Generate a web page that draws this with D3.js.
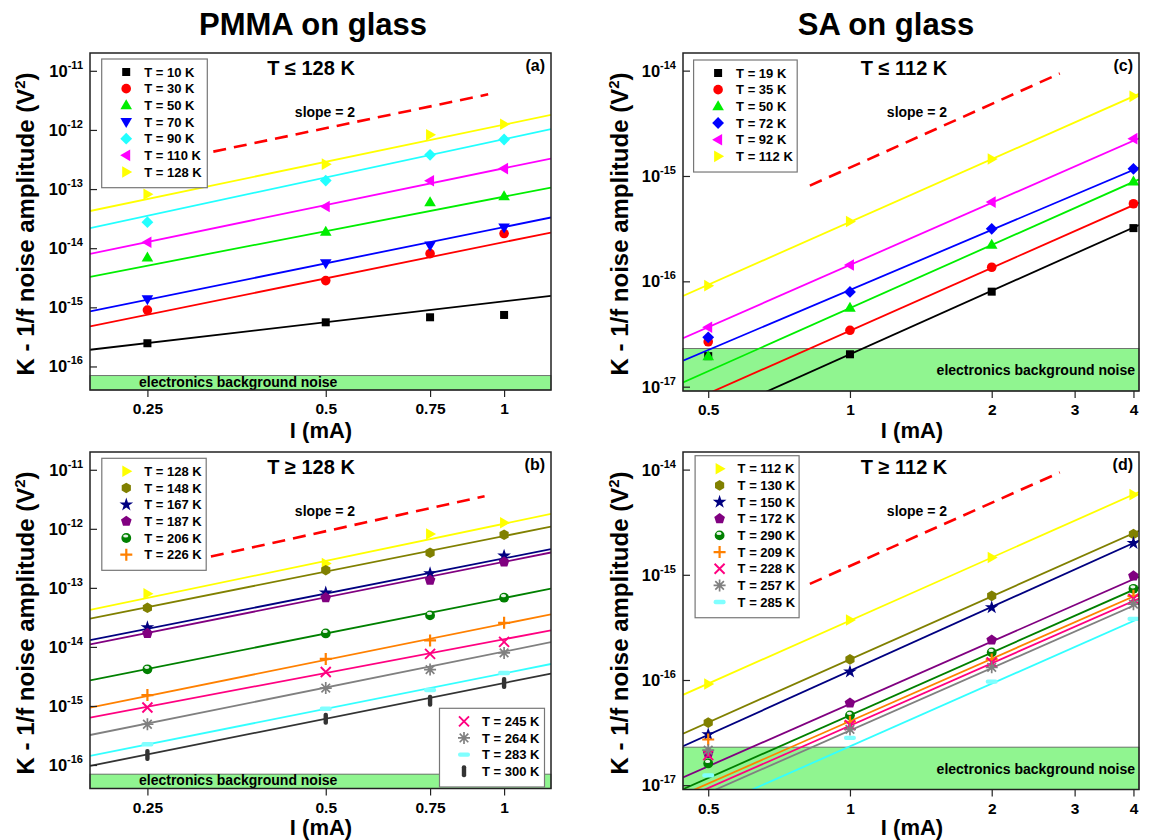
<!DOCTYPE html>
<html>
<head>
<meta charset="utf-8">
<script src="https://cdn.jsdelivr.net/npm/d3@7"></script>
<style>
  body { margin: 0; background: #fff; }
  text { font-family: "Liberation Sans", Arial, sans-serif; font-weight: bold; fill: #000; }
</style>
</head>
<body>
<div id="chart"></div>
<script>
// ---- data ----
const currentPMMA = [0.25, 0.5, 0.75, 1];
const currentSA = [0.5, 1, 2, 4];

// (a) PMMA, T <= 128 K
const labelsA = ["T = 10 K", "T = 30 K", "T = 50 K", "T = 70 K", "T = 90 K", "T = 110 K", "T = 128 K"];
const valuesA = [
    [2.47e-16, 5.58e-16, 6.79e-16, 7.43e-16],
    [9.0e-16, 2.83e-15, 8.11e-15, 1.77e-14],
    [6.93e-15, 1.89e-14, 6.0e-14, 7.59e-14],
    [1.37e-15, 5.57e-15, 1.11e-14, 2.23e-14],
    [2.75e-14, 1.39e-13, 3.79e-13, 6.89e-13],
    [1.26e-14, 5.06e-14, 1.38e-13, 2.22e-13],
    [8.18e-14, 2.64e-13, 8.26e-13, 1.25e-12],
];
const fitAmpA = [1.26e-15, 1.27e-14, 7.45e-14, 2.28e-14, 6.97e-13, 2.25e-13, 1.23e-12]; // value at 1 mA
const fitExpA = [1.17, 2.04, 1.94, 2.04, 2.15, 2.07, 2.09];

// (b) PMMA, T >= 128 K
const labelsB = ["T = 128 K", "T = 148 K", "T = 167 K", "T = 187 K", "T = 206 K", "T = 226 K",
    "T = 245 K", "T = 264 K", "T = 283 K", "T = 300 K"];
const valuesB = [
    [7.96e-14, 2.58e-13, 8.17e-13, 1.27e-12],
    [4.6e-14, 1.99e-13, 3.93e-13, 7.94e-13],
    [2.14e-14, 8.28e-14, 1.75e-13, 3.49e-13],
    [1.69e-14, 6.81e-14, 1.35e-13, 2.75e-13],
    [4.18e-15, 1.69e-14, 3.42e-14, 6.81e-14],
    [1.53e-15, 6.25e-15, 1.29e-14, 2.56e-14],
    [9.42e-16, 3.76e-15, 7.6e-15, 1.22e-14],
    [4.9e-16, 2.01e-15, 4.13e-15, 7.91e-15],
    [2.24e-16, 8.95e-16, 1.86e-15, 3.61e-15],
    [1.48e-16, 6.05e-16, 1.22e-15, 2.44e-15],
];
const fitAmpB = [1.22e-12, 7.55e-13, 3.16e-13, 2.76e-13, 6.73e-14, 2.46e-14, 1.35e-14, 8.32e-15, 3.57e-15, 2.45e-15];
const fitExpB = [2.09, 2.0, 1.98, 2.0, 1.995, 2.03, 1.9, 2.02, 2.0, 2.01];

// (c) SA, T <= 112 K
const labelsC = ["T = 19 K", "T = 35 K", "T = 50 K", "T = 72 K", "T = 92 K", "T = 112 K"];
const valuesC = [
    [1.95e-17, 2.03e-17, 7.98e-17, 3.2e-16],
    [2.67e-17, 3.43e-17, 1.36e-16, 5.45e-16],
    [1.95e-17, 5.62e-17, 2.23e-16, 8.87e-16],
    [2.94e-17, 7.93e-17, 3.15e-16, 1.17e-15],
    [3.66e-17, 1.43e-16, 5.65e-16, 2.26e-15],
    [9.1e-17, 3.7e-16, 1.45e-15, 5.7e-15],
];
const fitAmpC = [2.03e-17, 3.4e-17, 5.57e-17, 8.28e-17, 1.43e-16, 3.66e-16];
const fitExpC = [2.0, 1.98, 1.99, 1.893, 1.959, 1.98];

// (d) SA, T >= 112 K
const labelsD = ["T = 112 K", "T = 130 K", "T = 150 K", "T = 172 K", "T = 290 K", "T = 209 K",
    "T = 228 K", "T = 257 K", "T = 285 K"];
const valuesD = [
    [9.16e-17, 3.72e-16, 1.46e-15, 5.78e-15],
    [3.93e-17, 1.57e-16, 6.31e-16, 2.44e-15],
    [3.04e-17, 1.2e-16, 4.89e-16, 2.0e-15],
    [2.0e-17, 6.04e-17, 2.4e-16, 9.77e-16],
    [1.61e-17, 4.61e-17, 1.83e-16, 7.36e-16],
    [2.72e-17, 4.01e-17, 1.57e-16, 6.31e-16],
    [1.93e-17, 3.72e-17, 1.47e-16, 5.9e-16],
    [2.15e-17, 3.39e-17, 1.32e-16, 5.26e-16],
    [1.24e-17, 2.82e-17, 9.64e-17, 3.81e-16],
];
const fitAmpD = [3.67e-16, 1.57e-16, 1.22e-16, 5.92e-17, 4.62e-17, 4.06e-17, 3.68e-17, 3.31e-17, 2.34e-17];
const fitExpD = [1.99, 1.99, 2.02, 1.97, 1.98, 1.97, 1.97, 1.97, 1.98];

// slope = 2 guide lines [I, V]
const guideA = [[0.323, 4.3e-13], [0.94, 4.0e-12]];
const guideB = [[0.32, 3.4e-13], [0.927, 3.56e-12]];
const guideC = [[0.822, 8.1e-16], [2.79, 9.4e-15]];
const guideD = [[0.822, 8.2e-16], [2.79, 9.4e-15]];

// electronics background noise level
const bandPMMA = 7e-17;
const bandSA = 2.3e-17;

const xTicksPMMA = [0.25, 0.5, 0.75, 1];
const xTicksSA = [0.5, 1, 2, 3, 4];
const yExpPMMA = [-11, -12, -13, -14, -15, -16];
const yExpSA = [-14, -15, -16, -17];

// ---- styles ----
const colorsA = ["#000000", "#ff0000", "#00ee00", "#0000ff", "#22ffff", "#ff00ff", "#ffff00"];
const markersA = ["square", "circle", "triUp", "triDown", "diamond", "triLeft", "triRight"];
const colorsB = ["#ffff00", "#808000", "#000080", "#800080", "#008000", "#ff8000", "#ff0080", "#808080", "#33ffff", "#333333"];
const markColorsB = ["#ffff00", "#808000", "#000080", "#800080", "#008000", "#ff8000", "#ff0080", "#808080", "#80ffff", "#333333"];
const markersB = ["triRight", "hexagon", "star", "pentagon", "sphere", "plus", "cross", "asterisk", "dash", "bar"];
const colorsC = ["#000000", "#ff0000", "#00ee00", "#0000ff", "#ff00ff", "#ffff00"];
const markersC = ["square", "circle", "triUp", "diamond", "triLeft", "triRight"];
const colorsD = ["#ffff00", "#808000", "#000080", "#800080", "#008000", "#ff8000", "#ff0080", "#808080", "#33ffff"];
const markColorsD = ["#ffff00", "#808000", "#000080", "#800080", "#008000", "#ff8000", "#ff0080", "#808080", "#80ffff"];
const markersD = ["triRight", "hexagon", "star", "pentagon", "sphere", "plus", "cross", "asterisk", "dash"];

const W = 1152, H = 840;
const svg = d3.select("#chart").append("svg").attr("width", W).attr("height", H);

// Draw one marker symbol
const drawMarker = (g, type, color, x, y) => {
    const s = g.append("g").attr("transform", `translate(${x},${y})`);
    const poly = (pts) => "M" + pts.map((p) => p.join(",")).join("L") + "Z";
    const reg = (n, r, a0) => d3.range(n).map((i) => [r * Math.cos(a0 + (i * 2 * Math.PI) / n), r * Math.sin(a0 + (i * 2 * Math.PI) / n)]);
    switch (type) {
        case "square":
            s.append("rect").attr("x", -4).attr("y", -4).attr("width", 8).attr("height", 8).attr("fill", color);
            break;
        case "circle":
            s.append("circle").attr("r", 4.8).attr("fill", color);
            break;
        case "triUp":
            s.append("path").attr("d", poly([[0, -6], [5.8, 4], [-5.8, 4]])).attr("fill", color);
            break;
        case "triDown":
            s.append("path").attr("d", poly([[0, 6], [5.8, -4], [-5.8, -4]])).attr("fill", color);
            break;
        case "triLeft":
            s.append("path").attr("d", poly([[-6, 0], [4, -5.8], [4, 5.8]])).attr("fill", color);
            break;
        case "triRight":
            s.append("path").attr("d", poly([[6, 0], [-4, -5.8], [-4, 5.8]])).attr("fill", color);
            break;
        case "diamond":
            s.append("path").attr("d", poly([[0, -5.9], [5.9, 0], [0, 5.9], [-5.9, 0]])).attr("fill", color);
            break;
        case "hexagon":
            s.append("path").attr("d", poly(reg(6, 5.3, -Math.PI / 2))).attr("fill", color);
            break;
        case "pentagon":
            s.append("path").attr("d", poly(reg(5, 5.6, -Math.PI / 2))).attr("fill", color);
            break;
        case "star":
            s.append("path").attr("d", d3.symbol(d3.symbolStar, 58)()).attr("fill", color);
            break;
        case "sphere":
            s.append("circle").attr("r", 4.9).attr("fill", color);
            s.append("ellipse").attr("cx", -0.6).attr("cy", -2).attr("rx", 2.6).attr("ry", 1.6).attr("fill", "#fff").attr("opacity", 0.9);
            break;
        case "plus":
            s.append("path").attr("d", "M-6,0H6M0,-6V6").attr("stroke", color).attr("stroke-width", 2.2);
            break;
        case "cross":
            s.append("path").attr("d", "M-5,-5L5,5M-5,5L5,-5").attr("stroke", color).attr("stroke-width", 1.9);
            break;
        case "asterisk":
            s.append("path").attr("d", "M-6,0H6M0,-6V6M-4.3,-4.3L4.3,4.3M-4.3,4.3L4.3,-4.3").attr("stroke", color).attr("stroke-width", 1.7);
            break;
        case "dash":
            s.append("rect").attr("x", -6).attr("y", -2.2).attr("width", 12).attr("height", 4.4).attr("rx", 2).attr("fill", color);
            break;
        case "bar":
            s.append("rect").attr("x", -2.2).attr("y", -6).attr("width", 4.4).attr("height", 12).attr("rx", 2).attr("fill", color);
            break;
    }
};

const panel = (cfg) => {
    const g = svg.append("g");
    const x = d3.scaleLog().domain(cfg.xDomain).range([cfg.x0, cfg.x1]);
    const y = d3.scaleLog().domain(cfg.yDomain).range([cfg.y1, cfg.y0]);

    const clipId = "clip-" + cfg.id;
    svg.append("defs").append("clipPath").attr("id", clipId)
        .append("rect").attr("x", cfg.x0).attr("y", cfg.y0).attr("width", cfg.x1 - cfg.x0).attr("height", cfg.y1 - cfg.y0);

    // background band
    g.append("rect")
        .attr("x", cfg.x0).attr("y", y(cfg.band))
        .attr("width", cfg.x1 - cfg.x0).attr("height", cfg.y1 - y(cfg.band))
        .attr("fill", "#90f590").attr("stroke", "#555").attr("stroke-width", 0.8);
    g.append("text")
        .attr("x", cfg.bandTextX).attr("y", cfg.bandTextY)
        .attr("text-anchor", cfg.bandAnchor)
        .style("font-size", "14px")
        .text("electronics background noise");

    const plot = g.append("g").attr("clip-path", `url(#${clipId})`);

    // fit lines
    const line = d3.line().x((d) => x(d[0])).y((d) => y(d[1]));
    cfg.fitAmp.forEach((a, i) => {
        const pts = cfg.xDomain.map((I) => [I, a * Math.pow(I, cfg.fitExp[i])]);
        plot.append("path").attr("d", line(pts)).attr("fill", "none")
            .attr("stroke", cfg.colors[i]).attr("stroke-width", 1.8);
    });

    // slope = 2 guide
    plot.append("path").attr("d", line(cfg.guide)).attr("fill", "none")
        .attr("stroke", "#ff0000").attr("stroke-width", 2.6).attr("stroke-dasharray", "13,8");

    // data points
    cfg.values.forEach((vals, i) => {
        vals.forEach((v, j) => drawMarker(plot, cfg.markers[i], cfg.markColors[i], x(cfg.current[j]), y(v)));
    });

    // frame
    g.append("rect").attr("x", cfg.x0).attr("y", cfg.y0)
        .attr("width", cfg.x1 - cfg.x0).attr("height", cfg.y1 - cfg.y0)
        .attr("fill", "none").attr("stroke", "#222").attr("stroke-width", 1.5);

    // x axis (ticks outward)
    const xMinor = d3.range(0, 60).map((k) => k * cfg.minorStepLow).filter((v) => v >= cfg.xDomain[0] && v <= 1.0001)
        .concat(d3.range(1, 60).map((k) => 1 + k * cfg.minorStepHigh).filter((v) => v <= cfg.xDomain[1]));
    const xa = g.append("g").attr("transform", `translate(0,${cfg.y1})`);
    xa.call(d3.axisBottom(x).tickValues(xMinor).tickSize(4).tickFormat(""));
    xa.call(d3.axisBottom(x).tickValues(cfg.xTicks).tickSize(7).tickPadding(6).tickFormat((d) => String(d)));
    xa.selectAll(".domain").remove();
    xa.selectAll("line").attr("stroke", "#222").attr("stroke-width", 1.2);
    xa.selectAll("text").style("font-size", "15.5px").attr("fill", "#000")
        .style("font-family", '"Liberation Sans", Arial, sans-serif').style("font-weight", "bold");

    // y axis (ticks inward)
    const yMajor = cfg.yExp.map((e) => Math.pow(10, e));
    const yMinor = [];
    cfg.yExp.concat([d3.min(cfg.yExp) - 1]).forEach((e) => {
        for (let m = 2; m <= 9; m++) {
            const v = m * Math.pow(10, e);
            if (v > cfg.yDomain[0] && v < cfg.yDomain[1]) yMinor.push(v);
        }
    });
    const ya = g.append("g").attr("transform", `translate(${cfg.x0},0)`);
    ya.call(d3.axisLeft(y).tickValues(yMinor).tickSize(-3.5).tickFormat(""));
    ya.call(d3.axisLeft(y).tickValues(yMajor).tickSize(-7).tickFormat(""));
    ya.selectAll(".domain").remove();
    ya.selectAll("line").attr("stroke", "#222").attr("stroke-width", 1.2);

    cfg.yExp.forEach((e) => {
        const t = g.append("text").attr("x", cfg.x0 - 7).attr("y", y(Math.pow(10, e)) + 6)
            .attr("text-anchor", "end").style("font-size", "16.5px");
        t.append("tspan").text("10");
        t.append("tspan").attr("dy", -8).style("font-size", "11px").text(String(e));
    });

    // axis titles
    g.append("text").attr("x", cfg.xLabelX).attr("y", cfg.xLabelY).attr("text-anchor", "middle")
        .style("font-size", "22px").text("I (mA)");
    const yl = g.append("text")
        .attr("transform", `translate(${cfg.yLabelX},${cfg.yLabelY}) rotate(-90)`)
        .attr("text-anchor", "middle").style("font-size", "24px");
    yl.append("tspan").text("K - 1/f noise amplitude (V");
    yl.append("tspan").attr("dy", -9).style("font-size", "15px").text("2");
    yl.append("tspan").attr("dy", 9).text(")");

    // in-plot annotations
    g.append("text").attr("x", cfg.headX).attr("y", cfg.y0 + 22).attr("text-anchor", "middle")
        .style("font-size", "20px").text(cfg.head);
    g.append("text").attr("x", cfg.x1 - 6).attr("y", cfg.y0 + 18).attr("text-anchor", "end")
        .style("font-size", "16px").text(cfg.tag);
    g.append("text").attr("x", cfg.slopeX).attr("y", cfg.y0 + 64).attr("text-anchor", "middle")
        .style("font-size", "14px").text("slope = 2");

    // legends
    cfg.legends.forEach((lg) => {
        const n = lg.end - lg.start;
        g.append("rect").attr("x", lg.x).attr("y", lg.y).attr("width", lg.w).attr("height", 12 + n * 16.67)
            .attr("fill", "#fff").attr("stroke", "#777").attr("stroke-width", 1.2);
        for (let i = lg.start; i < lg.end; i++) {
            const ry = lg.y + 13 + (i - lg.start) * 16.67;
            drawMarker(g, cfg.markers[i], cfg.markColors[i], lg.x + 24.5, ry);
            g.append("text").attr("x", lg.x + 42.5).attr("y", ry + 4.7)
                .style("font-size", "13px").text(cfg.labels[i]);
        }
    });
};

// panel titles
svg.append("text").attr("x", 313).attr("y", 35).attr("text-anchor", "middle").style("font-size", "31px").text("PMMA on glass");
svg.append("text").attr("x", 886).attr("y", 35).attr("text-anchor", "middle").style("font-size", "31px").text("SA on glass");

const pmmaBase = {
    x0: 90, x1: 551, xDomain: [0.2, 1.2], yDomain: [4e-17, 2e-11],
    current: currentPMMA, xTicks: xTicksPMMA, yExp: yExpPMMA, minorStepLow: 0.025, minorStepHigh: 0.025,
    band: bandPMMA, bandTextX: 139, bandAnchor: "start",
    xLabelX: 321, yLabelX: 34, headX: 311, slopeX: 325,
};
const saBase = {
    x0: 683, x1: 1139, xDomain: [0.442, 4.11], yDomain: [9.1e-18, 1.47e-14],
    current: currentSA, xTicks: xTicksSA, yExp: yExpSA, minorStepLow: 0.05, minorStepHigh: 0.1,
    band: bandSA, bandTextX: 1135, bandAnchor: "end",
    xLabelX: 912, yLabelX: 628, headX: 904, slopeX: 917,
};

panel(Object.assign({}, pmmaBase, {
    id: "a", y0: 53, y1: 390, bandTextY: 387, xLabelY: 438, yLabelY: 224,
    labels: labelsA, values: valuesA, fitAmp: fitAmpA, fitExp: fitExpA, guide: guideA,
    colors: colorsA, markColors: colorsA, markers: markersA,
    head: "T \u2264 128 K", tag: "(a)",
    legends: [{ x: 101.7, y: 59, w: 105.6, start: 0, end: 7 }],
}));
panel(Object.assign({}, pmmaBase, {
    id: "b", y0: 452, y1: 788.5, bandTextY: 785, xLabelY: 835, yLabelY: 623,
    labels: labelsB, values: valuesB, fitAmp: fitAmpB, fitExp: fitExpB, guide: guideB,
    colors: colorsB, markColors: markColorsB, markers: markersB,
    head: "T \u2265 128 K", tag: "(b)",
    legends: [{ x: 101.8, y: 458.3, w: 104.4, start: 0, end: 6 }, { x: 439.5, y: 708.3, w: 105, start: 6, end: 10 }],
}));
panel(Object.assign({}, saBase, {
    id: "c", y0: 53, y1: 391, bandTextY: 375, xLabelY: 438, yLabelY: 224,
    labels: labelsC, values: valuesC, fitAmp: fitAmpC, fitExp: fitExpC, guide: guideC,
    colors: colorsC, markColors: colorsC, markers: markersC,
    head: "T \u2264 112 K", tag: "(c)",
    legends: [{ x: 693.6, y: 60, w: 103.6, start: 0, end: 6 }],
}));
panel(Object.assign({}, saBase, {
    id: "d", y0: 452, y1: 789.5, bandTextY: 773.5, xLabelY: 835, yLabelY: 623,
    labels: labelsD, values: valuesD, fitAmp: fitAmpD, fitExp: fitExpD, guide: guideD,
    colors: colorsD, markColors: markColorsD, markers: markersD,
    head: "T \u2265 112 K", tag: "(d)",
    legends: [{ x: 695.1, y: 455.7, w: 104, start: 0, end: 9 }],
}));
</script>
</body>
</html>
